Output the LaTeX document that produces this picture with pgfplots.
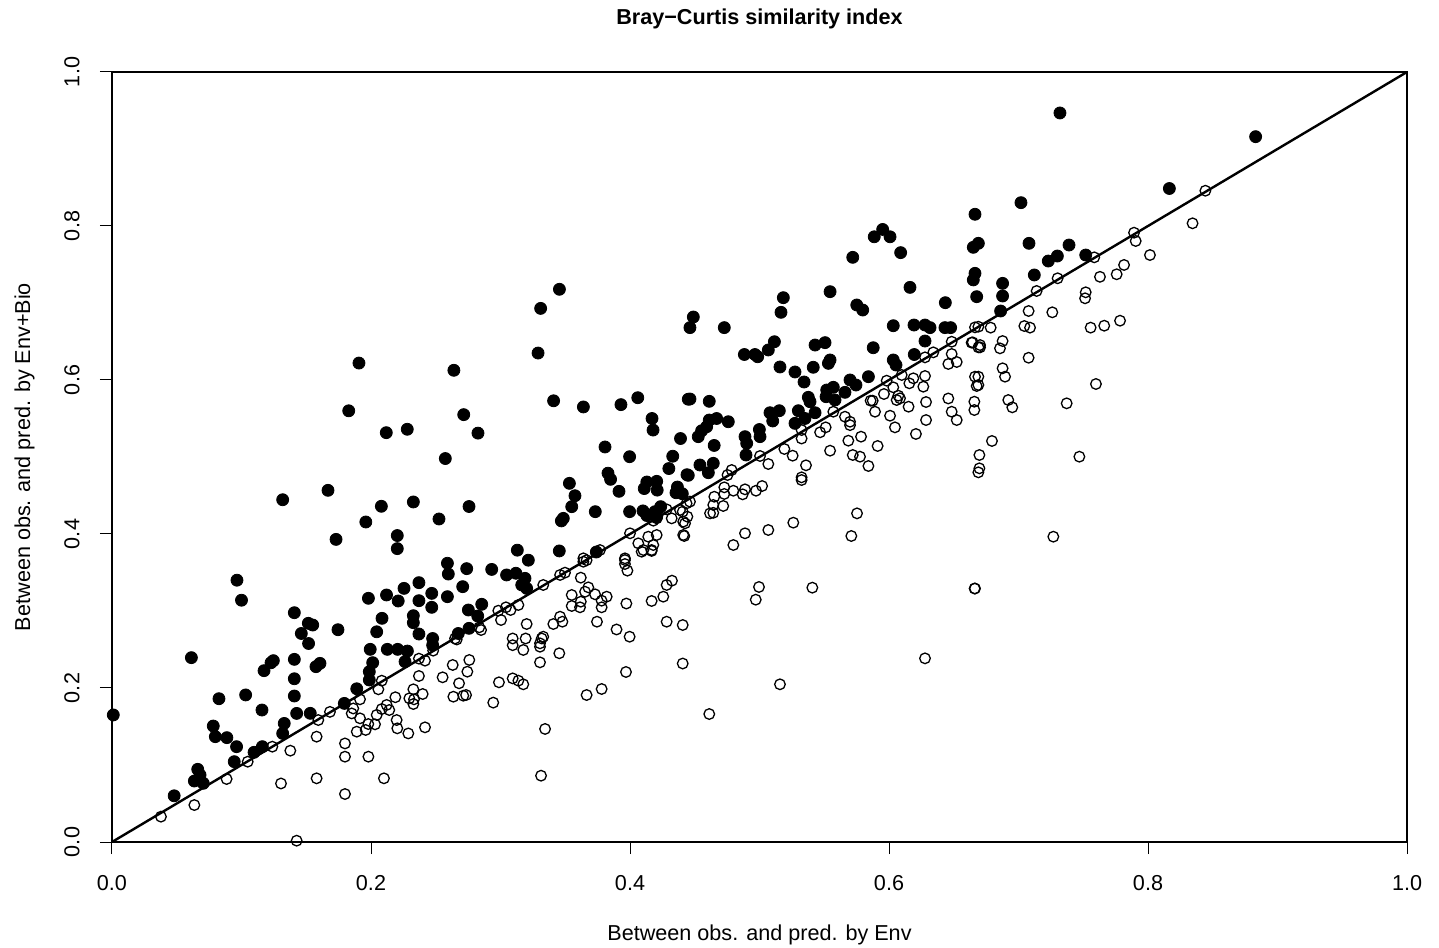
\documentclass[border=0pt]{standalone}
\usepackage{fontspec}
\setmainfont{Liberation Sans}
\usepackage{pgfplots}
\pgfplotsset{compat=1.18}
\begin{document}
\fontsize{10.8}{13}\selectfont
\begin{tikzpicture}
\begin{axis}[
  scale only axis, width=647.5pt, height=385pt,
  xmin=0, xmax=1, ymin=0, ymax=1,
  axis line style={line width=0.8pt},
  tick pos=left, tick align=outside, major tick length=6pt,
  tick style={line width=0.5pt, black},
  xtick={0,0.2,0.4,0.6,0.8,1}, xticklabels={0.0,0.2,0.4,0.6,0.8,1.0},
  ytick={0,0.2,0.4,0.6,0.8,1}, yticklabels={0.0,0.2,0.4,0.6,0.8,1.0},
  xticklabel style={anchor=center, yshift=-14.3pt},
  yticklabel style={xshift=-14pt, rotate=90, anchor=center},
  title={\bfseries Bray\textminus Curtis similarity index},
  title style={at={(axis description cs:0.5,1.0532)}, anchor=center, yshift=0pt},
  xlabel={Between obs. and pred. by Env},
  xlabel style={at={(axis description cs:0.5,-0.1208)}, anchor=center},
  ylabel={Between obs. and pred. by Env+Bio},
  ylabel style={at={(axis description cs:-0.0675,0.5)}, anchor=center, rotate=0},
]
\coordinate (sw) at (rel axis cs:0,0);
\coordinate (ne) at (rel axis cs:1,1);
\addplot[only marks, mark=*, mark size=3pt, black] coordinates {
(0.001,0.165) (0.048,0.060) (0.0613,0.2394) (0.0636,0.0792) (0.0662,0.0944) (0.068,0.087) (0.0705,0.0762)
(0.0782,0.1506) (0.0798,0.1368) (0.0826,0.1861) (0.0887,0.1355) (0.0944,0.1043) (0.0962,0.1238) (0.0965,0.340)
(0.100,0.314) (0.1032,0.191) (0.1097,0.1165) (0.1158,0.1714) (0.1161,0.1238) (0.1174,0.2225) (0.1228,0.2328)
(0.1246,0.2355) (0.1318,0.141) (0.133,0.154) (0.1318,0.4445) (0.1408,0.2978) (0.1408,0.2372) (0.1408,0.212)
(0.1408,0.1896) (0.1426,0.167) (0.1462,0.2708) (0.1516,0.284) (0.155,0.2818) (0.1518,0.2578) (0.1531,0.1671)
(0.1575,0.2277) (0.1606,0.232) (0.1668,0.4567) (0.173,0.393) (0.1745,0.2757) (0.1794,0.180) (0.1828,0.560)
(0.189,0.199) (0.1907,0.622) (0.196,0.4156) (0.198,0.3165) (0.1987,0.2212) (0.1987,0.2104) (0.1994,0.2502)
(0.2013,0.2329) (0.2044,0.273) (0.2085,0.2905) (0.208,0.436) (0.2118,0.5316) (0.212,0.3208) (0.2126,0.2502)
(0.2203,0.398) (0.2203,0.381) (0.2206,0.2502) (0.221,0.313) (0.2281,0.248) (0.2263,0.2342) (0.2255,0.3294)
(0.228,0.536) (0.2327,0.4416) (0.2327,0.2939) (0.2327,0.2848) (0.237,0.3368) (0.237,0.3134) (0.237,0.2701)
(0.2469,0.3229) (0.2469,0.3048) (0.2476,0.2643) (0.2476,0.2556) (0.2525,0.4195) (0.2574,0.498) (0.259,0.362)
(0.2597,0.348) (0.259,0.3186) (0.264,0.6126) (0.2674,0.2708) (0.2708,0.3316) (0.2716,0.555) (0.2739,0.355)
(0.2752,0.3013) (0.2757,0.4357) (0.2757,0.2775) (0.2826,0.531) (0.2824,0.2935) (0.2855,0.3087) (0.2932,0.354)
(0.3047,0.3468) (0.3119,0.349) (0.313,0.379) (0.3164,0.3338) (0.3189,0.3424) (0.3202,0.3294) (0.3215,0.366)
(0.329,0.635) (0.331,0.693) (0.341,0.573) (0.3454,0.378) (0.3455,0.7178) (0.347,0.417) (0.3485,0.4203)
(0.3532,0.4658) (0.355,0.4355) (0.3575,0.4497) (0.364,0.565) (0.3732,0.429) (0.374,0.3766) (0.3807,0.513)
(0.383,0.479) (0.385,0.471) (0.3915,0.4554) (0.393,0.568) (0.3997,0.5004) (0.3997,0.429) (0.406,0.577)
(0.410,0.430) (0.411,0.459) (0.413,0.4675) (0.413,0.424) (0.417,0.550) (0.4178,0.535) (0.4193,0.429)
(0.4206,0.4684) (0.4206,0.4225) (0.421,0.457) (0.4237,0.4355) (0.430,0.485) (0.433,0.501) (0.4355,0.4536)
(0.4366,0.461) (0.439,0.524) (0.4404,0.4523) (0.444,0.477) (0.445,0.575) (0.4463,0.668) (0.4489,0.6818)
(0.4463,0.5753) (0.4450,0.4762) (0.4527,0.5264) (0.454,0.4896) (0.4553,0.5341) (0.4592,0.5393) (0.4605,0.4796)
(0.4612,0.548) (0.4612,0.5723) (0.4643,0.4918) (0.465,0.515) (0.4669,0.55) (0.4728,0.668) (0.4759,0.5458)
(0.4883,0.6331) (0.4888,0.5264) (0.4896,0.5026) (0.4901,0.5177) (0.4965,0.6331) (0.4986,0.6302) (0.4999,0.5357)
(0.5004,0.5264) (0.5068,0.639) (0.5081,0.5575) (0.5102,0.5468) (0.5115,0.6497) (0.5153,0.5601) (0.5158,0.6169)
(0.5166,0.6879) (0.5184,0.7069) (0.5274,0.6104) (0.5274,0.5437) (0.53,0.5601) (0.5344,0.5974) (0.5351,0.55)
(0.5377,0.5775) (0.539,0.5718) (0.5415,0.6165) (0.5429,0.6454) (0.5429,0.5575) (0.5506,0.6485) (0.5514,0.5783)
(0.5519,0.587) (0.5532,0.6216) (0.5545,0.626) (0.5545,0.7147) (0.557,0.5905) (0.5583,0.574) (0.566,0.584)
(0.5699,0.600) (0.572,0.7593) (0.5745,0.5935) (0.5751,0.6974) (0.5797,0.6909) (0.5841,0.6043) (0.5878,0.6419)
(0.5886,0.786) (0.5951,0.7955) (0.6008,0.786) (0.6033,0.6705) (0.6033,0.626) (0.6054,0.6195) (0.609,0.7654)
(0.6162,0.7203) (0.6193,0.6714) (0.6195,0.6331) (0.6278,0.6714) (0.6317,0.668) (0.6278,0.6506) (0.6432,0.668)
(0.6476,0.668) (0.6435,0.7004) (0.6651,0.7723) (0.669,0.7775) (0.6664,0.8152) (0.6664,0.7385) (0.6651,0.730)
(0.6677,0.7082) (0.6877,0.7255) (0.6877,0.7091) (0.6862,0.6896) (0.7019,0.8303) (0.7081,0.7775) (0.7122,0.7364)
(0.723,0.7545) (0.73,0.761) (0.732,0.9468) (0.739,0.7753) (0.7519,0.7623) (0.8165,0.8487) (0.8831,0.916)
};
\addplot[only marks, mark=o, mark size=2.65pt, black, mark options={line width=0.65pt}] coordinates {
(0.0378,0.0329) (0.0636,0.048) (0.0885,0.0818) (0.1048,0.1043) (0.1238,0.1238) (0.1377,0.1186) (0.1305,0.076)
(0.158,0.1368) (0.1593,0.1584) (0.158,0.0827) (0.1683,0.169) (0.1426,0.0017) (0.1799,0.128) (0.1799,0.1108)
(0.1799,0.0623) (0.198,0.1108) (0.21,0.0827) (0.1851,0.167) (0.1915,0.1606) (0.189,0.1433) (0.1959,0.1455)
(0.1979,0.1532) (0.2031,0.1528) (0.2044,0.165) (0.2083,0.1727) (0.2121,0.178) (0.2141,0.1714) (0.2188,0.188)
(0.2198,0.1584) (0.2203,0.1476) (0.1915,0.1853) (0.2057,0.1983) (0.2083,0.2095) (0.1863,0.1734) (0.2288,0.141)
(0.2417,0.1489) (0.2327,0.1983) (0.2399,0.1922) (0.2296,0.1866) (0.2332,0.1853) (0.2327,0.1792) (0.237,0.2381)
(0.2417,0.2355) (0.248,0.2485) (0.237,0.2156) (0.2553,0.2139) (0.268,0.2061) (0.2636,0.1887) (0.2713,0.190)
(0.2734,0.1909) (0.2759,0.2364) (0.2631,0.2299) (0.2744,0.2212) (0.2649,0.2643) (0.2662,0.263) (0.2836,0.2788)
(0.285,0.2753) (0.2944,0.181) (0.2988,0.2074) (0.2983,0.3004) (0.3004,0.2883) (0.3042,0.3048) (0.3078,0.3013)
(0.3138,0.3078) (0.3202,0.2831) (0.3094,0.2643) (0.3094,0.2556) (0.3194,0.2643) (0.3176,0.2494) (0.3318,0.2643)
(0.333,0.2666) (0.3305,0.258) (0.3305,0.2536) (0.3305,0.2333) (0.3454,0.2451) (0.3094,0.2125) (0.3138,0.2095)
(0.3176,0.2048) (0.3408,0.2831) (0.346,0.2926) (0.3478,0.2861) (0.3344,0.1468) (0.3313,0.0861) (0.333,0.3338)
(0.346,0.3468) (0.3498,0.3498) (0.362,0.3433) (0.364,0.364) (0.3665,0.366) (0.3678,0.3307) (0.3653,0.325)
(0.373,0.3217) (0.382,0.3186) (0.3781,0.3134) (0.3781,0.3048) (0.355,0.3208) (0.362,0.3121) (0.355,0.3065)
(0.3614,0.3048) (0.3745,0.2861) (0.3665,0.1909) (0.3781,0.1987) (0.3896,0.276) (0.3997,0.2666) (0.3972,0.3097)
(0.3969,0.2208) (0.3961,0.3662) (0.3961,0.361) (0.398,0.3524) (0.409,0.377) (0.4167,0.378) (0.4167,0.313)
(0.4257,0.3186) (0.4283,0.3338) (0.4324,0.3394) (0.4283,0.2861) (0.4407,0.2818) (0.4407,0.2318) (0.364,0.3684)
(0.3768,0.3792) (0.3961,0.3684) (0.400,0.4009) (0.4064,0.3879) (0.4141,0.3965) (0.4206,0.3987) (0.418,0.3857)
(0.4103,0.3792) (0.4167,0.3792) (0.4322,0.4203) (0.4411,0.416) (0.4411,0.3987) (0.4386,0.4312) (0.4437,0.4398)
(0.4283,0.432) (0.4206,0.4203) (0.418,0.4173) (0.4419,0.3974) (0.4425,0.4139) (0.4443,0.4225) (0.4407,0.429)
(0.4463,0.442) (0.4618,0.4268) (0.4643,0.4275) (0.472,0.4364) (0.4643,0.4377) (0.4651,0.4484) (0.4728,0.452)
(0.4728,0.4606) (0.4798,0.4562) (0.487,0.4515) (0.4888,0.458) (0.4973,0.4562) (0.502,0.4623) (0.4785,0.4831)
(0.4753,0.4766) (0.5325,0.4701) (0.5753,0.4268) (0.5709,0.3974) (0.5261,0.4147) (0.5068,0.4052) (0.4888,0.4009)
(0.4798,0.3857) (0.4996,0.3312) (0.4971,0.3147) (0.5408,0.3303) (0.6661,0.3292) (0.6278,0.2385) (0.5158,0.2048)
(0.4612,0.1662) (0.5004,0.5013) (0.5068,0.4909) (0.5192,0.5104) (0.5256,0.5017) (0.5325,0.524) (0.5325,0.535)
(0.5359,0.4892) (0.5325,0.4736) (0.5468,0.5321) (0.5511,0.5385) (0.557,0.5588) (0.5545,0.5082) (0.566,0.5523)
(0.5699,0.5458) (0.5699,0.5414) (0.5686,0.5212) (0.5784,0.5264) (0.572,0.5026) (0.5776,0.5004) (0.5841,0.4883)
(0.5912,0.5143) (0.5892,0.5588) (0.6008,0.5536) (0.6046,0.5385) (0.6208,0.5299) (0.5961,0.5818) (0.5874,0.5731)
(0.5858,0.5731) (0.6072,0.5796) (0.6085,0.5762) (0.6059,0.574) (0.6151,0.5653) (0.6286,0.5714) (0.6286,0.548)
(0.6458,0.576) (0.6484,0.5588) (0.6523,0.548) (0.5982,0.5991) (0.6033,0.5905) (0.6098,0.6065) (0.6157,0.5957)
(0.6188,0.6022) (0.6265,0.5913) (0.6278,0.6052) (0.6278,0.6294) (0.6342,0.6359) (0.6458,0.6208) (0.6523,0.6234)
(0.6484,0.6338) (0.6484,0.6497) (0.6638,0.6485) (0.669,0.6424) (0.6664,0.6684) (0.669,0.6692) (0.6785,0.668)
(0.6664,0.6043) (0.6677,0.5922) (0.6659,0.5718) (0.6659,0.561) (0.6646,0.6489) (0.6703,0.6454) (0.6703,0.6424)
(0.6877,0.6506) (0.6857,0.6411) (0.7078,0.6289) (0.6877,0.6152) (0.6896,0.6043) (0.669,0.6043) (0.669,0.5935)
(0.6921,0.574) (0.6952,0.5645) (0.7372,0.5697) (0.7598,0.5948) (0.6795,0.5208) (0.6698,0.5026) (0.6698,0.4853)
(0.669,0.4801) (0.747,0.5004) (0.7269,0.3965) (0.6664,0.3292) (0.7045,0.6701) (0.7089,0.668) (0.7078,0.6896)
(0.7261,0.6879) (0.714,0.7156) (0.7302,0.7321) (0.7519,0.7139) (0.7514,0.7061) (0.7557,0.668) (0.7662,0.6705)
(0.7784,0.677) (0.7629,0.734) (0.7585,0.7593) (0.7758,0.7373) (0.7815,0.7494) (0.7892,0.7913) (0.7905,0.7805)
(0.8015,0.7623) (0.8344,0.8035) (0.8443,0.8458)
};
\addplot[black, line width=1.2pt] coordinates {(0,0) (1,1)};
\end{axis}
\pgfresetboundingbox
\path ([shift={(-56pt,-52.5pt)}]sw) rectangle ([shift={(16pt,36pt)}]ne);
\end{tikzpicture}
\end{document}
